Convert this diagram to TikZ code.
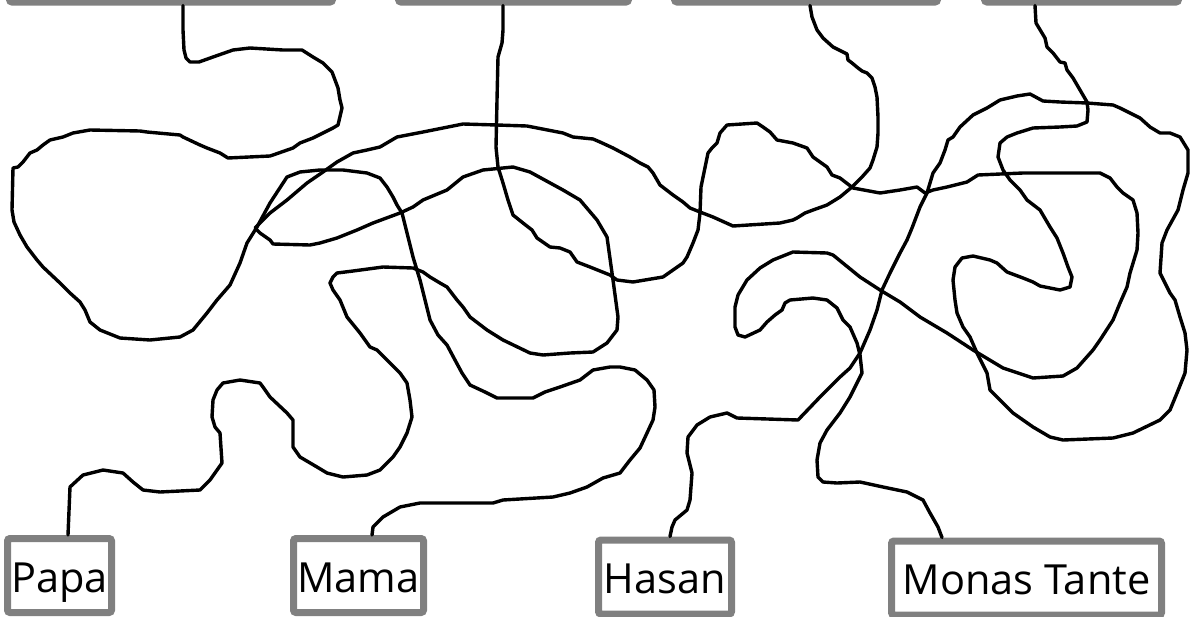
\documentclass[tikz,border=0pt]{standalone}
\usepackage{fontspec}
\setmainfont{Open Sans}
\definecolor{boxgray}{RGB}{128,128,128}
\tikzset{
  namebox/.style={draw=boxgray, line width=7pt, fill=white, rounded corners=2.5pt,
    minimum height=74pt, inner sep=0pt, text height=40pt, text depth=7pt,
    font=\fontsize{41.5}{45}\selectfont},
  wire/.style={draw=black, line width=3.4pt, line join=round, line cap=round}
}
\begin{document}
\begin{tikzpicture}[x=1pt,y=-1pt]
\useasboundingbox (0,0) rectangle (1190,616);
\clip (0,0) rectangle (1190,616);
\fill[white] (0,0) rectangle (1190,616);
% top boxes (mostly outside the picture)
\node[namebox, minimum width=323pt] (t1) at (171,-35) {};
\node[namebox, minimum width=230pt] (t2) at (513.5,-35) {};
\node[namebox, minimum width=263pt] (t3) at (806,-35) {};
\node[namebox, minimum width=194pt] (t4) at (1081.5,-35) {};
% bottom boxes
\node[namebox, minimum width=104pt] (papa) at (59.5,575.5) {Papa};
\node[namebox, minimum width=130pt] (mama) at (358.5,575.5) {Mama};
\node[namebox, minimum width=133pt] (hasan) at (665,577) {Hasan};
\node[namebox, minimum width=270pt] (tante) at (1026.5,578) {Monas Tante};
% curve A: t1 -> Mama
\draw[wire] (183,0 |- t1.south) -- (183,30) -- (184,50) -- (186,58) -- (190,62) -- (199,62) -- (213,57) -- (233,50) -- (250,48) -- (283,50) -- (302,50) -- (313,57) -- (323,63) -- (332,72) -- (335,80) -- (338,88) -- (340,100) -- (342,108) -- (338,125) -- (333,128) -- (323,133) -- (313,138) -- (300,143) -- (293,148) -- (273,155) -- (270,156) -- (228,158) -- (220,153) -- (207,148) -- (200,145) -- (183,137) -- (180,135) -- (147,132) -- (140,131) -- (90,130) -- (73,133) -- (63,137) -- (50,140) -- (43,145) -- (37,150) -- (30,153) -- (23,162) -- (18,167) -- (13,168) -- (12,210) -- (14,222) -- (20,235) -- (27,247) -- (37,260) -- (43,267) -- (60,283) -- (70,293) -- (80,302) -- (85,310) -- (90,322) -- (100,330) -- (120,338) -- (150,340) -- (180,337) -- (193,330) -- (207,313) -- (217,300) -- (230,285) -- (240,263) -- (247,243) -- (257,227) -- (270,203) -- (287,177) -- (300,172) -- (320,170) -- (343,170) -- (367,173) -- (380,178) -- (387,187) -- (393,197) -- (397,205) -- (402,213) -- (407,233) -- (413,257) -- (420,280) -- (425,300) -- (430,320) -- (438,335) -- (447,345) -- (455,360) -- (462,373) -- (470,385) -- (485,392) -- (497,398) -- (533,398) -- (545,392) -- (560,387) -- (580,380) -- (593,370) -- (610,367) -- (620,367) -- (635,370) -- (647,380) -- (654,390) -- (655,407) -- (653,420) -- (647,433) -- (640,448) -- (630,460) -- (620,473) -- (603,478) -- (587,487) -- (570,493) -- (553,497) -- (503,500) -- (493,503) -- (420,503) -- (400,507) -- (383,517) -- (373,527) -- (372,0 |- mama.north);
% curve B: t3 -> Papa
\draw[wire] (810,0 |- t3.south) -- (812,17) -- (817,30) -- (823,38) -- (833,47) -- (843,52) -- (847,54) -- (848,60) -- (852,63) -- (858,68) -- (862,71) -- (867,73) -- (872,78) -- (875,87) -- (877,97) -- (878,117) -- (878,133) -- (877,147) -- (873,160) -- (870,168) -- (862,177) -- (852,187) -- (840,197) -- (827,205) -- (813,210) -- (805,213) -- (797,218) -- (793,220) -- (780,223) -- (733,226) -- (713,217) -- (700,212) -- (690,208) -- (683,202) -- (673,195) -- (660,185) -- (653,173) -- (648,167) -- (640,163) -- (630,157) -- (613,148) -- (600,142) -- (593,139) -- (573,137) -- (563,133) -- (527,126) -- (497,125) -- (463,124) -- (423,132) -- (397,137) -- (380,147) -- (367,150) -- (353,153) -- (337,162) -- (323,172) -- (307,183) -- (287,200) -- (270,213) -- (255,228) -- (260,233) -- (270,240) -- (273,244) -- (310,245) -- (320,243) -- (337,238) -- (357,230) -- (373,223) -- (400,213) -- (413,207) -- (423,200) -- (447,190) -- (463,177) -- (483,170) -- (513,167) -- (530,172) -- (563,190) -- (580,200) -- (597,220) -- (607,237) -- (613,280) -- (618,317) -- (617,330) -- (607,343) -- (593,352) -- (570,353) -- (543,355) -- (530,353) -- (503,340) -- (487,330) -- (470,317) -- (463,307) -- (457,300) -- (447,287) -- (440,283) -- (430,277) -- (423,272) -- (413,268) -- (383,267) -- (353,271) -- (337,273) -- (333,277) -- (330,283) -- (333,290) -- (340,300) -- (347,317) -- (360,333) -- (370,347) -- (377,350) -- (390,363) -- (400,373) -- (407,383) -- (410,400) -- (412,417) -- (407,433) -- (400,447) -- (393,457) -- (380,470) -- (367,475) -- (343,477) -- (327,473) -- (317,467) -- (300,457) -- (293,447) -- (293,420) -- (287,413) -- (270,397) -- (263,387) -- (260,383) -- (240,380) -- (223,383) -- (217,390) -- (213,400) -- (212,417) -- (215,427) -- (220,433) -- (222,463) -- (210,480) -- (200,490) -- (160,492) -- (143,490) -- (133,482) -- (123,473) -- (103,470) -- (83,475) -- (70,487) -- (68,0 |- papa.north);
% curve C: t2 -> Monas Tante
\draw[wire] (503,0 |- t2.south) -- (503,30) -- (502,43) -- (498,57) -- (497,100) -- (496,147) -- (498,167) -- (503,183) -- (508,200) -- (513,215) -- (523,223) -- (532,230) -- (537,238) -- (550,247) -- (560,248) -- (570,252) -- (577,262) -- (590,267) -- (610,275) -- (617,280) -- (633,282) -- (663,277) -- (673,270) -- (683,263) -- (687,257) -- (693,243) -- (698,230) -- (700,213) -- (701,187) -- (708,153) -- (712,148) -- (717,143) -- (720,133) -- (727,125) -- (757,123) -- (763,127) -- (770,132) -- (777,140) -- (793,143) -- (807,148) -- (813,157) -- (827,167) -- (832,175) -- (840,178) -- (853,188) -- (880,193) -- (900,190) -- (917,187) -- (925,193) -- (933,190) -- (947,187) -- (967,182) -- (978,175) -- (1023,173) -- (1100,173) -- (1110,178) -- (1117,187) -- (1123,193) -- (1133,200) -- (1137,213) -- (1138,233) -- (1137,250) -- (1130,273) -- (1127,287) -- (1120,303) -- (1113,320) -- (1100,340) -- (1093,350) -- (1077,368) -- (1063,376) -- (1033,378) -- (1003,368) -- (993,362) -- (973,350) -- (947,333) -- (920,317) -- (900,302) -- (880,290) -- (860,277) -- (833,255) -- (827,253) -- (793,252) -- (773,260) -- (760,268) -- (747,280) -- (738,295) -- (735,307) -- (735,327) -- (738,335) -- (745,337) -- (760,330) -- (767,322) -- (775,315) -- (782,310) -- (785,303) -- (790,300) -- (813,298) -- (827,300) -- (837,308) -- (843,320) -- (850,327) -- (857,343) -- (860,355) -- (862,373) -- (857,383) -- (850,397) -- (840,413) -- (827,430) -- (820,443) -- (817,460) -- (818,477) -- (823,482) -- (837,483) -- (860,482) -- (883,487) -- (907,492) -- (923,500) -- (930,513) -- (938,527) -- (942,0 |- tante.north);
% curve D: t4 -> Hasan
\draw[wire] (1035,0 |- t4.south) -- (1036,23) -- (1042,33) -- (1045,38) -- (1047,47) -- (1053,53) -- (1060,62) -- (1065,63) -- (1067,70) -- (1073,78) -- (1080,90) -- (1087,102) -- (1088,110) -- (1087,122) -- (1077,126) -- (1060,127) -- (1033,128) -- (1017,133) -- (1007,137) -- (1000,143) -- (998,157) -- (1003,170) -- (1010,180) -- (1020,190) -- (1027,200) -- (1040,210) -- (1050,227) -- (1057,238) -- (1063,253) -- (1068,267) -- (1072,277) -- (1070,287) -- (1060,290) -- (1040,286) -- (1033,282) -- (1023,278) -- (1007,272) -- (997,263) -- (990,260) -- (973,256) -- (962,258) -- (955,267) -- (953,280) -- (955,300) -- (957,313) -- (963,327) -- (970,337) -- (977,353) -- (987,373) -- (990,390) -- (1000,400) -- (1013,413) -- (1033,427) -- (1050,437) -- (1063,440) -- (1113,438) -- (1133,433) -- (1160,420) -- (1170,410) -- (1177,393) -- (1185,373) -- (1187,350) -- (1185,333) -- (1180,317) -- (1175,300) -- (1170,293) -- (1160,273) -- (1162,243) -- (1167,230) -- (1178,210) -- (1183,190) -- (1188,173) -- (1188,150) -- (1180,137) -- (1170,133) -- (1160,133) -- (1150,127) -- (1140,118) -- (1120,108) -- (1113,105) -- (1087,103) -- (1060,102) -- (1043,101) -- (1030,94) -- (1017,96) -- (1000,100) -- (987,108) -- (973,115) -- (960,127) -- (953,137) -- (948,140) -- (945,150) -- (940,163) -- (933,173) -- (927,193) -- (920,207) -- (912,228) -- (907,240) -- (900,253) -- (890,273) -- (882,290) -- (877,310) -- (870,330) -- (860,353) -- (850,368) -- (840,377) -- (820,397) -- (798,420) -- (737,418) -- (727,413) -- (710,417) -- (697,425) -- (688,437) -- (687,453) -- (692,473) -- (690,500) -- (687,510) -- (675,520) -- (672,527) -- (670,0 |- hasan.north);
\end{tikzpicture}
\end{document}
